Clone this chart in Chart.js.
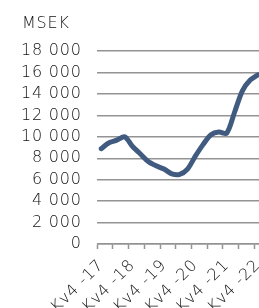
<!DOCTYPE html>
<html>
<head>
<meta charset="utf-8">
<script src="https://cdn.jsdelivr.net/npm/chart.js@4/dist/chart.umd.min.js"></script>
<style>
  html, body { margin: 0; padding: 0; background: #fff; overflow: hidden; }
  #wrap { position: relative; width: 262px; height: 308px; }
</style>
</head>
<body>
<div id="wrap"><canvas id="c"></canvas></div>
<script>
const categories = [
  'Kv4 -17', 'Kv1 -18', 'Kv2 -18', 'Kv3 -18',
  'Kv4 -18', 'Kv1 -19', 'Kv2 -19', 'Kv3 -19',
  'Kv4 -19', 'Kv1 -20', 'Kv2 -20', 'Kv3 -20',
  'Kv4 -20', 'Kv1 -21', 'Kv2 -21', 'Kv3 -21',
  'Kv4 -21', 'Kv1 -22', 'Kv2 -22', 'Kv3 -22',
  'Kv4 -22'
];
const values = [
  8900, 9450, 9700, 10000,
  9100, 8400, 7700, 7300,
  7000, 6550, 6500, 7000,
  8200, 9300, 10200, 10450,
  10350, 12300, 14300, 15300,
  15800
];
const unitLabel = 'MSEK';
const yMin = 0, yMax = 18000, yStep = 2000;
const labelEvery = 4;
const tickEvery = 2;

const FONT = 'DejaVu Sans';
const TEXT = '#111111';
const GRID = '#939393';
const SPACING = '0.8px';

function fmt(v) {
  return String(v).replace(/\B(?=(\d{3})+(?!\d))/g, ' ');
}

const spacingPlugin = {
  id: 'spacing',
  beforeUpdate(chart) { chart.ctx.letterSpacing = SPACING; },
  beforeDraw(chart) { chart.ctx.letterSpacing = SPACING; }
};

new Chart(document.getElementById('c'), {
  type: 'line',
  plugins: [spacingPlugin],
  data: {
    labels: categories,
    datasets: [{
      data: values,
      borderColor: '#415b80',
      borderWidth: 5,
      pointRadius: 0,
      tension: 0.3,
      borderCapStyle: 'round',
      borderJoinStyle: 'round',
      fill: false
    }]
  },
  options: {
    responsive: true,
    maintainAspectRatio: false,
    animation: false,
    events: [],
    layout: { padding: { left: 22, top: 0, right: 0, bottom: 0 } },
    plugins: {
      legend: { display: false },
      tooltip: { enabled: false },
      title: {
        display: true,
        text: unitLabel,
        align: 'start',
        color: TEXT,
        font: { family: FONT, size: 16, weight: '200', lineHeight: 1.2 },
        padding: { top: 14, bottom: 18 }
      }
    },
    scales: {
      x: {
        offset: true,
        grid: {
          offset: true,
          drawOnChartArea: false,
          drawTicks: true,
          tickLength: 5,
          tickWidth: 1.5,
          tickColor: (ctx) => (ctx.index % tickEvery === 0 ? GRID : 'rgba(0,0,0,0)')
        },
        border: { display: true, color: GRID, width: 1.5 },
        ticks: {
          autoSkip: false,
          maxRotation: 45,
          minRotation: 45,
          padding: 7,
          color: TEXT,
          font: { family: FONT, size: 16, weight: '200' },
          callback: function (value, index) {
            return index % labelEvery === 0 ? this.getLabelForValue(value) : '';
          }
        },
        afterFit: (scale) => {
          scale.height = 64;
          scale.paddingLeft = 0;
          scale.paddingRight = 0;
        }
      },
      y: {
        min: yMin,
        max: yMax,
        grid: {
          drawTicks: false,
          color: GRID,
          lineWidth: 1.5
        },
        border: { display: false },
        ticks: {
          autoSkip: false,
          stepSize: yStep,
          padding: 15.5,
          color: TEXT,
          font: { family: FONT, size: 16, weight: '200' },
          callback: (v) => fmt(v)
        },
        afterFit: (scale) => {
          scale.width = 75.3;
        }
      }
    }
  }
});
</script>
</body>
</html>
